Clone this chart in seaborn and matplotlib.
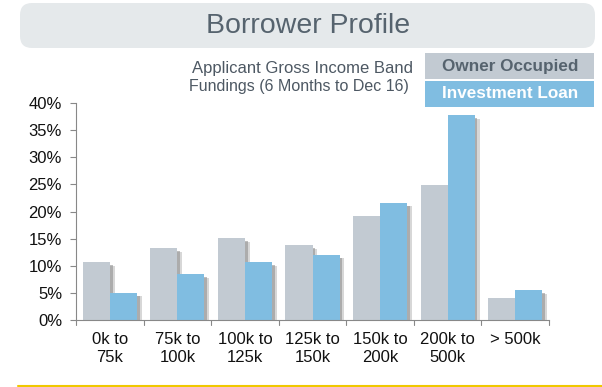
import matplotlib
matplotlib.use("Agg")
import matplotlib.pyplot as plt
import matplotlib.patheffects as pe
from matplotlib.patches import FancyBboxPatch, Rectangle
import seaborn as sns
import pandas as pd
import numpy as np

categories = ["0k to\n75k", "75k to\n100k", "100k to\n125k", "125k to\n150k",
              "150k to\n200k", "200k to\n500k", "> 500k"]
owner_occupied = [10.6, 13.2, 15.1, 13.8, 19.2, 24.8, 4.0]
investment_loan = [5.0, 8.4, 10.6, 12.0, 21.6, 37.7, 5.5]
series_names = ["Owner Occupied", "Investment Loan"]
yticks = [0, 5, 10, 15, 20, 25, 30, 35, 40]

df = pd.DataFrame({
    "band": categories * 2,
    "value": owner_occupied + investment_loan,
    "series": [series_names[0]] * len(categories) + [series_names[1]] * len(categories),
})

sns.set_theme(style="white")
plt.rcParams["font.family"] = ["Liberation Sans", "DejaVu Sans"]

grey = "#c2cad2"
blue = "#80bde1"

W, H = 602, 387
fig = plt.figure(figsize=(W / 100, H / 100), dpi=100)
ax = fig.add_axes([76 / W, (H - 320) / H, (549 - 76) / W, (320 - 103) / H])

sns.barplot(data=df, x="band", y="value", hue="series", palette=[grey, blue],
            width=0.8, ax=ax, legend=False, saturation=1)

for p in ax.patches:
    p.set_linewidth(0)
    p.set_path_effects([
        pe.SimplePatchShadow(offset=(3.5, -2.5), shadow_rgbFace="#b0b0b0", alpha=0.5),
        pe.SimplePatchShadow(offset=(2, -2), shadow_rgbFace="#8a8a8a", alpha=0.55),
        pe.Normal()])

ax.set_ylim(0, 40)
ax.set_xlim(-0.5, len(categories) - 0.5)
ax.set_yticks(yticks)
ax.set_yticklabels([f"{t}%" for t in yticks], fontsize=12, color="#111111")
ax.set_xticks(range(len(categories)))
ax.set_xticklabels(categories, fontsize=12, color="#111111", linespacing=1.2)
ax.tick_params(axis="x", length=0, pad=9)
ax.tick_params(axis="y", length=4, width=0.8, color="#888888", left=True, pad=6)
# category boundary ticks
for b in np.arange(-0.5, len(categories) + 0.5, 1):
    ax.plot([b, b], [0, -0.9], color="#888888", lw=0.8, clip_on=False)
ax.set_xlabel("")
ax.set_ylabel("")
for s in ["top", "right"]:
    ax.spines[s].set_visible(False)
for s in ["left", "bottom"]:
    ax.spines[s].set_color("#888888")
    ax.spines[s].set_linewidth(0.8)

# title banner
fig.patches.append(FancyBboxPatch((20 / W, (H - 48) / H), (595 - 20) / W, 45 / H,
                                  boxstyle="round,pad=0,rounding_size=0.02",
                                  transform=fig.transFigure, facecolor="#e5e9eb",
                                  edgecolor="none", mutation_aspect=W / H))
fig.text(308 / W, (H - 26) / H, "Borrower Profile", fontsize=20.5, color="#56636e",
         ha="center", va="center")

# subtitle
fig.text(413 / W, (H - 68) / H, "Applicant Gross Income Band", fontsize=12,
         color="#4d5863", ha="right", va="center")
fig.text(409 / W, (H - 86) / H, "Fundings (6 Months to Dec 16)", fontsize=11.5,
         color="#4d5863", ha="right", va="center")

# legend boxes
fig.patches.append(Rectangle((425 / W, (H - 79) / H), (594 - 425) / W, 26 / H,
                             transform=fig.transFigure, facecolor=grey, edgecolor="none"))
fig.patches.append(Rectangle((425 / W, (H - 107) / H), (594 - 425) / W, 26 / H,
                             transform=fig.transFigure, facecolor=blue, edgecolor="none"))
fig.text(510 / W, (H - 66) / H, series_names[0], fontsize=12.3, fontweight="bold",
         color="#56636e", ha="center", va="center")
fig.text(510 / W, (H - 94) / H, series_names[1], fontsize=12.3, fontweight="bold",
         color="white", ha="center", va="center")

# yellow rule
fig.add_artist(plt.Line2D([18 / W, 1.0], [(H - 386) / H] * 2, transform=fig.transFigure,
                          color="#f0c800", lw=1.5))

fig.savefig("out.png", dpi=100)
